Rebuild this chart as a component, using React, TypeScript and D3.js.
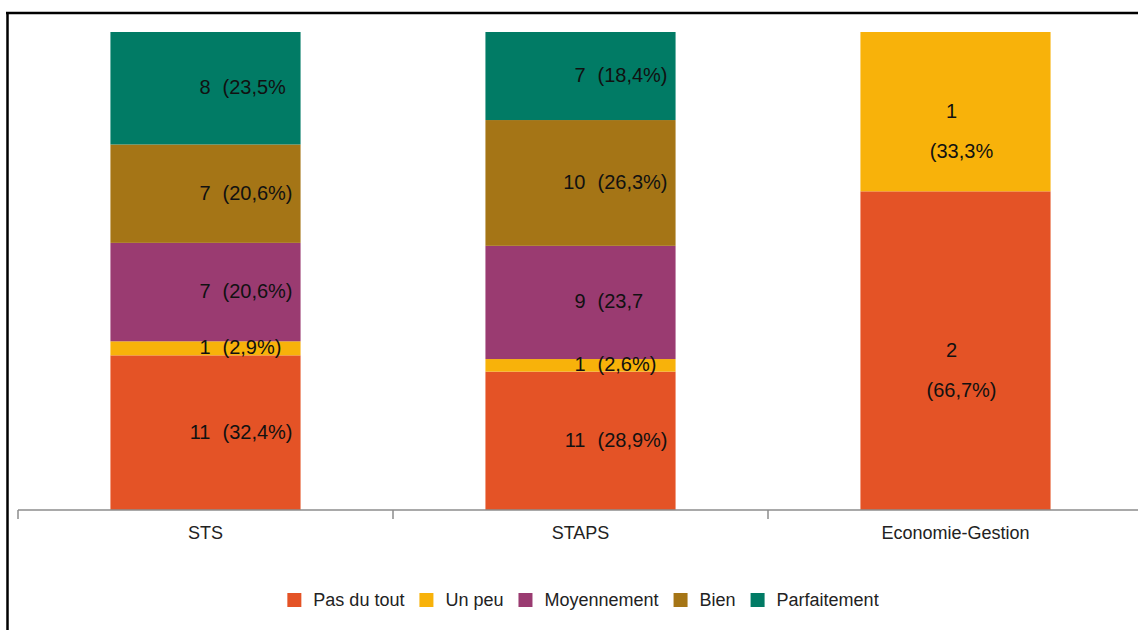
import React, { useEffect, useRef } from "react";
import * as d3 from "d3";

const categories = ["STS", "STAPS", "Economie-Gestion"];
const levels = ["Pas du tout", "Un peu", "Moyennement", "Bien", "Parfaitement"];
const levelColors = ["#E45326", "#F8B20A", "#9A3B71", "#A57516", "#017B65"];

const pasDuTout = [11, 11, 2];
const unPeu = [1, 1, 1];
const moyennement = [7, 9, 0];
const bien = [7, 10, 0];
const parfaitement = [8, 7, 0];

const pasDuToutPct = ["(32,4%)", "(28,9%)", "(66,7%)"];
const unPeuPct = ["(2,9%)", "(2,6%)", "(33,3%"];
const moyennementPct = ["(20,6%)", "(23,7", ""];
const bienPct = ["(20,6%)", "(26,3%)", ""];
const parfaitementPct = ["(23,5%", "(18,4%)", ""];

const labelLayout = ["inline", "inline", "stacked"];

const W = 1138;
const H = 630;
const FONT = "'Liberation Sans', Arial, sans-serif";

export default function App() {
  const ref = useRef<SVGSVGElement | null>(null);

  useEffect(() => {
    const svg = d3.select(ref.current);
    svg.selectAll("*").remove();

    const seriesValues = [pasDuTout, unPeu, moyennement, bien, parfaitement];
    const seriesPct = [pasDuToutPct, unPeuPct, moyennementPct, bienPct, parfaitementPct];

    const rows = categories.map((c, i) => {
      const r: any = { cat: c };
      levels.forEach((l, j) => (r[l] = seriesValues[j][i]));
      return r;
    });

    const stacked = d3.stack<any>().keys(levels).offset(d3.stackOffsetExpand)(rows);

    const x = d3
      .scaleBand<string>()
      .domain(categories)
      .range([18, 1143])
      .paddingInner(0.493)
      .paddingOuter(0.2465);
    const step = x.step();
    const y = d3.scaleLinear().domain([0, 1]).range([510, 32]);

    svg.append("rect").attr("width", W).attr("height", H).attr("fill", "#ffffff");

    // frame
    svg
      .append("line")
      .attr("x1", 7.5)
      .attr("x2", 7.5)
      .attr("y1", 12)
      .attr("y2", H)
      .attr("stroke", "#000")
      .attr("stroke-width", 2.5);
    svg
      .append("line")
      .attr("x1", 6)
      .attr("x2", W)
      .attr("y1", 13)
      .attr("y2", 13)
      .attr("stroke", "#000")
      .attr("stroke-width", 2.5);

    // bars
    stacked.forEach((s, j) => {
      svg
        .append("g")
        .selectAll("rect")
        .data(s)
        .join("rect")
        .attr("x", (d: any) => x(d.data.cat)!)
        .attr("width", x.bandwidth())
        .attr("y", (d: any) => y(d[1]))
        .attr("height", (d: any) => Math.max(0, y(d[0]) - y(d[1])))
        .attr("fill", levelColors[j]);
    });

    // labels
    const lg = svg.append("g").attr("font-family", FONT).attr("fill", "#111");
    stacked.forEach((s, j) => {
      s.forEach((d: any, i: number) => {
        const v = seriesValues[j][i];
        if (!v) return;
        const cx = x(d.data.cat)! + x.bandwidth() / 2;
        const my = (y(d[0]) + y(d[1])) / 2 - 1;
        if (labelLayout[i] === "inline") {
          lg.append("text")
            .attr("x", cx + 5)
            .attr("y", my)
            .attr("text-anchor", "end")
            .attr("dominant-baseline", "central")
            .attr("font-size", 20)
            .text(String(v));
          lg.append("text")
            .attr("x", cx + 17)
            .attr("y", my)
            .attr("text-anchor", "start")
            .attr("dominant-baseline", "central")
            .attr("font-size", 20)
            .text(seriesPct[j][i]);
        } else {
          lg.append("text")
            .attr("x", cx - 4)
            .attr("y", my)
            .attr("text-anchor", "middle")
            .attr("dominant-baseline", "central")
            .attr("font-size", 20)
            .text(String(v));
          lg.append("text")
            .attr("x", cx + 6)
            .attr("y", my + 40)
            .attr("text-anchor", "middle")
            .attr("dominant-baseline", "central")
            .attr("font-size", 20)
            .text(seriesPct[j][i]);
        }
      });
    });

    // axis
    const axisG = svg.append("g");
    const x0 = x(categories[0])! - x.paddingOuter() * step;
    axisG
      .append("line")
      .attr("x1", x0)
      .attr("x2", W)
      .attr("y1", 510)
      .attr("y2", 510)
      .attr("stroke", "#8c8c8c")
      .attr("stroke-width", 1.5);
    const tickXs = categories.map((c) => x(c)! - x.paddingOuter() * step);
    tickXs.forEach((tx) => {
      axisG
        .append("line")
        .attr("x1", tx)
        .attr("x2", tx)
        .attr("y1", 510)
        .attr("y2", 519)
        .attr("stroke", "#8c8c8c")
        .attr("stroke-width", 1.5);
    });
    categories.forEach((c) => {
      axisG
        .append("text")
        .attr("x", x(c)! + x.bandwidth() / 2)
        .attr("y", 533)
        .attr("text-anchor", "middle")
        .attr("dominant-baseline", "central")
        .attr("font-family", FONT)
        .attr("font-size", 18)
        .attr("fill", "#222")
        .text(c);
    });

    // legend
    const leg = svg.append("g").attr("font-family", FONT).attr("font-size", 18);
    const items: { g: any; w: number }[] = [];
    levels.forEach((l, j) => {
      const g = leg.append("g");
      g.append("rect").attr("x", 0).attr("y", -7).attr("width", 14).attr("height", 14).attr("fill", levelColors[j]);
      const t = g
        .append("text")
        .attr("x", 26)
        .attr("y", 0)
        .attr("dominant-baseline", "central")
        .attr("fill", "#222")
        .text(l);
      const tw = (t.node() as SVGTextElement).getComputedTextLength();
      items.push({ g, w: 26 + tw });
    });
    const gap = 15;
    const total = items.reduce((a, b) => a + b.w, 0) + gap * (items.length - 1);
    let cursor = 583 - total / 2;
    items.forEach((it) => {
      it.g.attr("transform", `translate(${cursor},600)`);
      cursor += it.w + gap;
    });
  }, []);

  return (
    <svg
      ref={ref}
      width={W}
      height={H}
      style={{ position: "absolute", left: 0, top: 0, display: "block" }}
    />
  );
}
